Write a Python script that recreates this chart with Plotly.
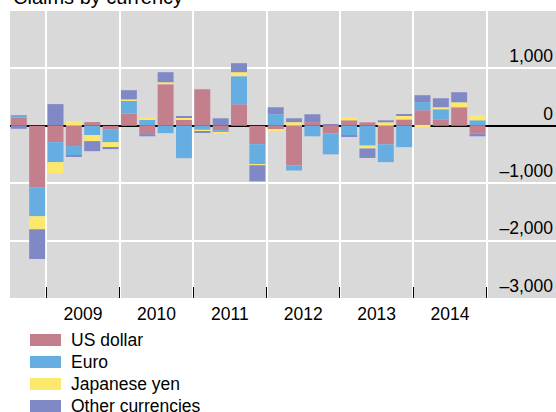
import plotly.graph_objects as go

quarters = ['2008Q3', '2008Q4',
            '2009Q1', '2009Q2', '2009Q3', '2009Q4',
            '2010Q1', '2010Q2', '2010Q3', '2010Q4',
            '2011Q1', '2011Q2', '2011Q3', '2011Q4',
            '2012Q1', '2012Q2', '2012Q3', '2012Q4',
            '2013Q1', '2013Q2', '2013Q3', '2013Q4',
            '2014Q1', '2014Q2', '2014Q3', '2014Q4']

us_dollar = [140, -1070, -285, -354, 65, -60, 212, -145, 724, 114, 637, -75, 375,
             -320, -68, -691, 64, -134, 96, 61, -322, 110, 271, 113, 323, -137]
euro = [47, -506, -349, -169, -162, -227, 233, 113, -128, -564, -70, -50, 489,
        -350, 201, -87, -183, -364, -166, -345, -311, -372, 140, 175, 0, 96]
yen = [0, -227, -192, 82, -105, -99, 15, 20, 35, 32, -35, -15, 70,
       -17, -17, 64, 0, 0, 52, -50, 61, 70, -17, 35, 87, 87]
other = [-52, -518, 378, -17, -175, -20, 160, -38, 175, 20, -17, 131, 157,
         -281, 122, 67, 137, 26, -17, -165, 35, 17, 122, 157, 175, -46]

series = [('US dollar', us_dollar, '#c47f8d'),
          ('Euro', euro, '#66ade2'),
          ('Japanese yen', yen, '#fde86e'),
          ('Other currencies', other, '#8089c6')]

year_labels = ['2009', '2010', '2011', '2012', '2013', '2014']
y_ticks = [-3000, -2000, -1000, 0, 1000]
y_text = ['\u20133,000', '\u20132,000', '\u20131,000', '0', '1,000']

# quarter -> decimal year at the middle of the quarter
xpos = [int(q[:4]) + (int(q[-1]) - 0.5) / 4 for q in quarters]

fnt = 'Liberation Sans, Arial, sans-serif'

fig = go.Figure()
for name, vals, col in series:
    fig.add_trace(go.Bar(x=xpos, y=vals, name=name, marker=dict(color=col, line=dict(width=0))))

W, H = 556, 412
ml, mr, mt, mb = 10, 0, 11, 114
ph = H - mt - mb
pw = W - ml - mr


def px_x(px):
    return (px - ml) / pw


def px_y(py):
    return (H - mb - py) / ph


# hand-made legend with wide swatches
shapes = []
annos = []
for i, (name, vals, col) in enumerate(series):
    cy = 340 + i * 22
    shapes.append(dict(type='rect', xref='paper', yref='paper',
                       x0=px_x(30), x1=px_x(61), y0=px_y(cy + 6), y1=px_y(cy - 6),
                       fillcolor=col, line=dict(width=0)))
    annos.append(dict(text=name, xref='paper', yref='paper', x=px_x(69), y=px_y(cy),
                      xanchor='left', yanchor='middle', showarrow=False,
                      font=dict(size=17.5, color='black', family=fnt)))

annos.append(dict(text='Claims by currency', xref='paper', yref='paper',
                  x=px_x(11), y=px_y(10), xanchor='left', yanchor='bottom',
                  showarrow=False, font=dict(size=20, color='black', family=fnt)))

fig.update_layout(
    barmode='relative', bargap=0.13,
    width=W, height=H,
    margin=dict(l=ml, r=mr, t=mt, b=mb),
    paper_bgcolor='white', plot_bgcolor='#d9d9d9',
    showlegend=False,
    font=dict(family=fnt, size=17.5, color='black'),
    shapes=shapes, annotations=annos,
)
fig.update_xaxes(range=[2008.505, 2015.944],
                 tickvals=[int(y) + 0.5 for y in year_labels], ticktext=year_labels,
                 ticks='', showgrid=False, zeroline=False, showline=False,
                 ticklabelstandoff=3,
                 tickfont=dict(size=17.5, color='black'),
                 minor=dict(tickvals=list(range(2009, 2016)), ticks='inside', ticklen=11,
                            tickcolor='black', tickwidth=1, showgrid=True,
                            gridcolor='white', gridwidth=1.5))
fig.update_yaxes(range=[-3000, 2000], side='right',
                 tickvals=y_ticks, ticktext=y_text,
                 ticklabelposition='inside top', ticks='',
                 showgrid=True, gridcolor='white', gridwidth=1.5,
                 zeroline=True, zerolinecolor='black', zerolinewidth=1.6,
                 showline=False, tickfont=dict(size=17.5, color='black'))

fig.write_html('out.html', config={'displayModeBar': False},
               post_script="document.body.style.margin='0';")
